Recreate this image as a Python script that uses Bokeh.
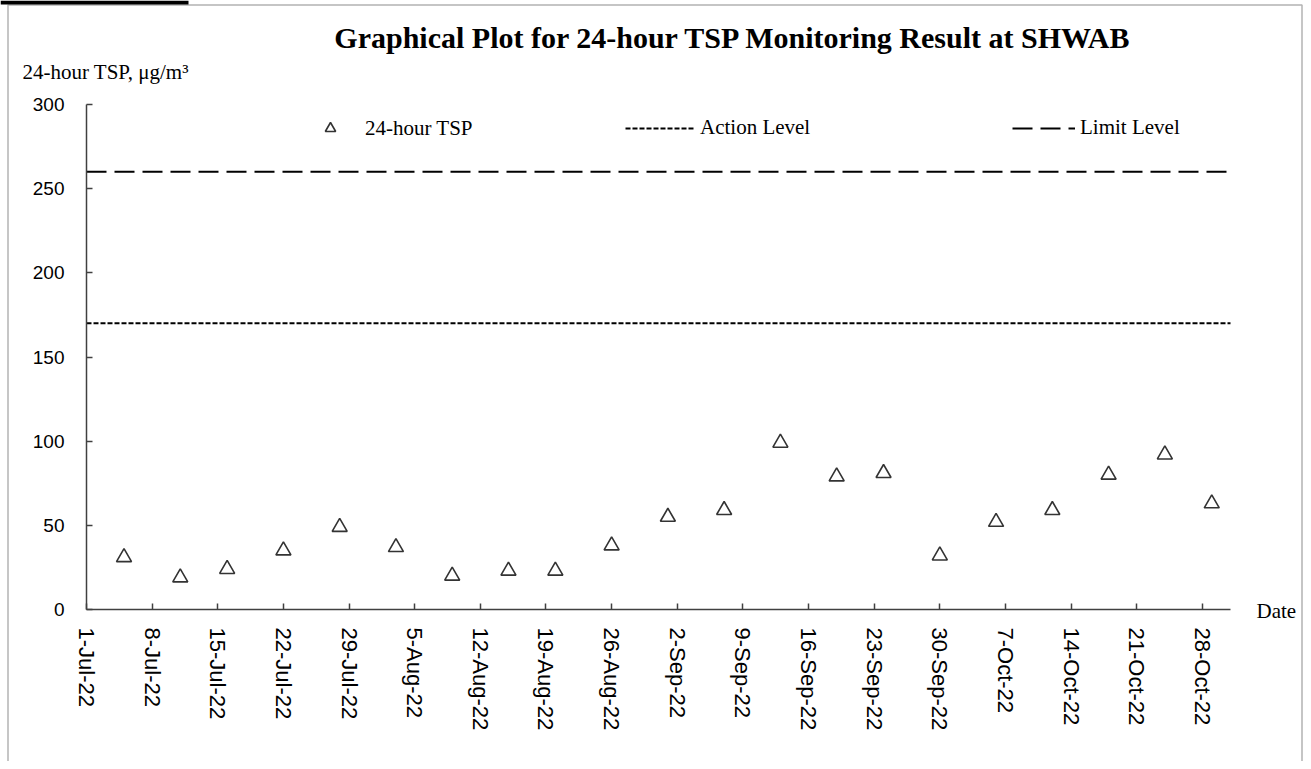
import numpy as np
from bokeh.plotting import figure
from bokeh.models import (FixedTicker, Legend, LegendItem, Label, BoxAnnotation, Range1d)
from bokeh.embed import file_html
from bokeh.resources import INLINE

# ---- data ----
dates = ["2022-07-05", "2022-07-11", "2022-07-16", "2022-07-22", "2022-07-28",
         "2022-08-03", "2022-08-09", "2022-08-15", "2022-08-20", "2022-08-26",
         "2022-09-01", "2022-09-07", "2022-09-13", "2022-09-19", "2022-09-24",
         "2022-09-30", "2022-10-06", "2022-10-12", "2022-10-18", "2022-10-24",
         "2022-10-29"]
tsp = [31, 19, 24, 35, 49, 37, 20, 23, 23, 38, 55, 59, 99, 79, 81, 32, 52, 59, 80, 92, 63]

action_level = 170
limit_level = 260

x_start = "2022-07-01"
x_end = "2022-10-31"

tick_dates = ["2022-07-01", "2022-07-08", "2022-07-15", "2022-07-22", "2022-07-29",
              "2022-08-05", "2022-08-12", "2022-08-19", "2022-08-26", "2022-09-02",
              "2022-09-09", "2022-09-16", "2022-09-23", "2022-09-30", "2022-10-07",
              "2022-10-14", "2022-10-21", "2022-10-28"]
tick_labels = ["1-Jul-22", "8-Jul-22", "15-Jul-22", "22-Jul-22", "29-Jul-22",
               "5-Aug-22", "12-Aug-22", "19-Aug-22", "26-Aug-22", "2-Sep-22",
               "9-Sep-22", "16-Sep-22", "23-Sep-22", "30-Sep-22", "7-Oct-22",
               "14-Oct-22", "21-Oct-22", "28-Oct-22"]
y_ticks = [0, 50, 100, 150, 200, 250, 300]
y_min, y_max = 0, 300

title_text = "Graphical Plot for 24-hour TSP Monitoring Result at SHWAB"
y_title = "24-hour TSP, \u03bcg/m\u00b3"
x_title = "Date"
legend_labels = ["24-hour TSP", "Action Level", "Limit Level"]


def to_ms(lst):
    return np.array(lst, dtype="datetime64[ms]").astype("int64").astype(float)


x_ms = to_ms(dates)
tick_ms = to_ms(tick_dates)
xr = to_ms([x_start, x_end])

SERIF = "Liberation Serif"
SANS = "Liberation Sans"
AX = "#404040"

# layout (canvas pixels)
W, H = 1303, 761
FL, FR, FT, FB = 86, 1230, 104, 609   # where the axes box sits

ms_per_px = (xr[1] - xr[0]) / (FR - FL)
u_per_px = (y_max - y_min) / (FB - FT)


def cx(px):
    return xr[0] + (px - FL) * ms_per_px


def cy(py):
    return y_min + (FB - py) * u_per_px


p = figure(x_axis_type="datetime", width=W, height=H,
           min_border_left=0, min_border_right=0, min_border_top=0, min_border_bottom=0,
           output_backend="svg", toolbar_location=None,
           x_range=Range1d(cx(0), cx(W)), y_range=Range1d(cy(H), cy(0)))
p.title.visible = False
p.outline_line_color = None
p.grid.visible = False
p.background_fill_color = "white"
p.border_fill_color = "white"

# axes drawn at fixed positions inside the canvas
p.xaxis.fixed_location = y_min
p.xaxis.bounds = (xr[0], xr[1])
p.yaxis.fixed_location = xr[0]
p.yaxis.bounds = (y_min, y_max)

for ax in (p.xaxis[0], p.yaxis[0]):
    ax.axis_line_color = AX
    ax.axis_line_width = 1.5
    ax.major_tick_line_color = AX
    ax.major_tick_line_width = 1.5
    ax.major_tick_in = 6
    ax.major_tick_out = 0
    ax.minor_tick_line_color = None
    ax.major_label_text_color = "black"

p.xaxis.ticker = FixedTicker(ticks=list(tick_ms))
p.xaxis.major_label_overrides = {float(t): lab for t, lab in zip(tick_ms, tick_labels)}
p.xaxis.major_label_orientation = -np.pi / 2
p.xaxis.major_label_text_font = SANS
p.xaxis.major_label_text_font_size = "22px"
p.xaxis.major_label_standoff = 18

p.yaxis.ticker = FixedTicker(ticks=y_ticks)
p.yaxis.major_label_text_font = SANS
p.yaxis.major_label_text_font_size = "19px"
p.yaxis.major_label_standoff = 22

# level lines across the date range
r_limit = p.line(xr, [limit_level, limit_level], line_color="black", line_width=2, line_dash="20 8")
r_action = p.line(xr, [action_level, action_level], line_color="black", line_width=2, line_dash="5 2")

# points
r_tsp = p.scatter(x_ms, tsp, marker="triangle", size=15, fill_color=None,
                  line_color="#333333", line_width=1.6)

# legends (one per item so each can sit where it does in the original)
legend_row = 128
def mk_legend(label, rend, x, gw, gh, standoff):
    lg = Legend(items=[LegendItem(label=label, renderers=[rend])],
                location=(x, H - legend_row - gh / 2),
                orientation="horizontal", glyph_width=gw, glyph_height=gh, label_height=gh,
                label_standoff=standoff, border_line_color=None, background_fill_alpha=0,
                padding=0, margin=0, label_text_font=SERIF, label_text_font_size="21px",
                label_text_color="black")
    p.add_layout(lg, "center")

mk_legend(legend_labels[0], r_tsp, 317, 26, 26, 22)
mk_legend(legend_labels[1], r_action, 625, 70, 24, 5)
mk_legend(legend_labels[2], r_limit, 1012, 63, 24, 5)

# texts
p.add_layout(Label(x=cx(733), y=cy(37), text=title_text,
                   text_align="center", text_baseline="middle", text_font=SERIF,
                   text_font_size="30px", text_font_style="bold", text_color="black"))
p.add_layout(Label(x=cx(22), y=cy(71), text=y_title,
                   text_align="left", text_baseline="middle", text_font=SERIF,
                   text_font_size="21px", text_color="black"))
p.add_layout(Label(x=cx(1256), y=cy(610), text=x_title,
                   text_align="left", text_baseline="middle", text_font=SERIF,
                   text_font_size="21px", text_color="black"))

# outer frame and corner bar
p.add_layout(BoxAnnotation(left=cx(7.5), right=cx(W - 1.5), top=cy(4.5), bottom=cy(H + 20),
                           fill_alpha=0, line_color="black", line_width=1.5))
p.add_layout(BoxAnnotation(left=cx(0), right=cx(188), top=cy(0), bottom=cy(4),
                           fill_color="black", fill_alpha=1, line_color=None))

open("out.html", "w").write(file_html(p, INLINE))
